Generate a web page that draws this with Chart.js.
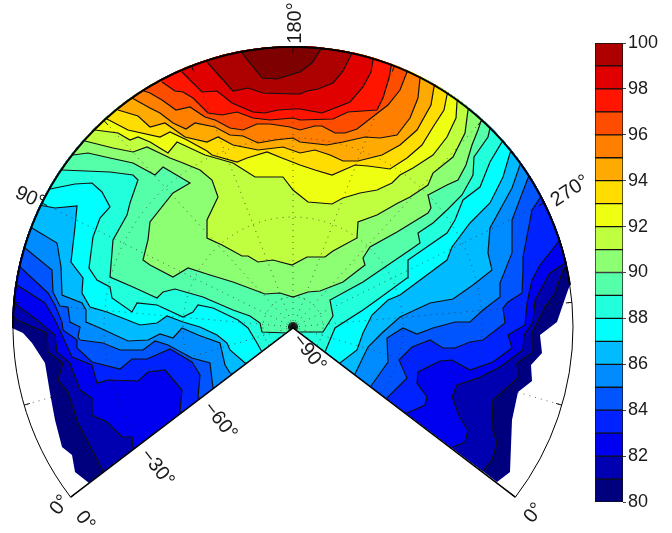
<!DOCTYPE html>
<html>
<head>
<meta charset="utf-8">
<script src="https://cdn.jsdelivr.net/npm/chart.js@4/dist/chart.umd.min.js"></script>
<style>
html, body { margin: 0; padding: 0; background: #fff; }
#wrap { position: relative; width: 672px; height: 533px; overflow: hidden; }
canvas { position: absolute; left: 0; top: 0; }
</style>
</head>
<body>
<div id="wrap">
  <canvas id="map" width="672" height="533"></canvas>
  <canvas id="bar" width="672" height="533"></canvas>
</div>
<script>
// map units: pole at 0,0 and rim at radius 280
var rimRadius = 280;
var gridRadii = [30, 110, 189];
var azimuthStep = 21.24; // 30 deg of azimuth on the flattened cone
var azimuthTicks = [-6, -5, -4, -3, -2, -1, 0, 1, 2, 3, 4, 5, 6];

var barTicks = [80, 82, 84, 86, 88, 90, 92, 94, 96, 98, 100];
var levels = [81, 82, 83, 84, 85, 86, 87, 88, 89, 90, 91, 92, 93, 94, 95, 96, 97, 98, 99, 100];
var bandColors = ["#00007f", "#0000b0", "#0000f0", "#0022ff", "#0055ff", "#008cff", "#00bbff", "#00ffff", "#22ffdd", "#55ffaa",
    "#8cff73", "#bfff40", "#eeff11", "#ffdd00", "#ffaa00", "#ff8000", "#ff4d00", "#ff1500", "#e00000", "#ad0000", "#7f0000"];

var coverageLeft = [[-204,-156],[-218,-145],[-221,-128],[-231,-120],[-238,-93],[-243,-66],[-248,-36],[-261,-16],[-270,-6],[-281,-1]];
var coverageRight = [[277,42],[275,37],[264,5],[247,-8],[249,-26],[238,-38],[239,-54],[225,-65],[219,-93],[217,-145],[204,-155]];

var contour81 = [[-281,12],[-276,7],[-246,-6],[-245,-25],[-230,-36],[-235,-53],[-225,-65],[-215,-96],[-190,-144],
    [189,-145],[199,-133],[204,-116],[199,-100],[200,-73],[225,-51],[224,-36],[239,-26],[239,-6],[252,20],[262,34],[270,57],[274,62]];
var contour82 = [[-279,24],[-256,7],[-238,-8],[-236,-25],[-223,-36],[-213,-63],[-201,-71],[-201,-88],[-186,-95],[-171,-110],[-161,-110],[-160,-121],
    [160,-120],[172,-115],[175,-103],[167,-91],[159,-70],[164,-58],[185,-51],[207,-40],[230,-23],[231,-8],[240,5],[242,27],[257,54],[272,64]];
var contour83 = [[-276,42],[-248,24],[-238,7],[-231,-8],[-221,-30],[-201,-38],[-196,-56],[-185,-53],[-155,-54],[-145,-45],[-128,-43],[-111,-63],[-113,-85],
    [114,-86],[132,-78],[134,-70],[124,-56],[125,-45],[147,-34],[159,-33],[177,-43],[200,-35],[219,-21],[215,-8],[232,2],[234,24],[239,47],[247,62],[259,77],[265,85]];
var contour84 = [[-274,61],[-245,34],[-238,22],[-231,5],[-230,-3],[-216,-13],[-216,-21],[-201,-35],[-173,-42],[-161,-32],[-146,-32],[-123,-22],[-101,-35],[-93,-48],[-95,-71],
    [94,-71],[104,-61],[114,-51],[106,-33],[119,-20],[137,-13],[150,-21],[162,-21],[177,-15],[190,-13],[212,4],[210,19],[215,25],[229,34],[230,57],[230,70],[239,117],[247,129]];
var contour85 = [[-268,79],[-241,57],[-240,35],[-233,21],[-225,20],[-223,5],[-213,0],[-215,-10],[-213,-13],[-190,-16],[-173,-23],[-150,-23],[-138,-14],[-125,-18],[-101,-31],[-83,-36],[-80,-61],
    [78,-59],[95,-35],[94,-11],[110,-1],[124,-7],[140,-1],[162,5],[177,5],[190,17],[207,30],[207,44],[219,74],[219,107],[235,149]];
var contour86 = [[-261,99],[-236,84],[-232,60],[-231,32],[-211,24],[-207,17],[-207,5],[-193,-1],[-165,-14],[-145,-13],[-133,-7],[-120,-11],[-111,-1],[-95,-8],[-73,-16],[-68,-38],[-63,-46],
    [62,-47],[75,-20],[89,-6],[107,10],[124,18],[137,24],[160,28],[180,42],[199,57],[195,74],[197,99],[219,139],[227,162]];
var contour87 = [[-254,122],[-238,119],[-216,121],[-218,100],[-222,65],[-210,49],[-211,34],[-203,20],[-186,15],[-153,2],[-136,4],[-126,11],[-110,5],[-93,0],[-76,-8],[-66,-16],[-63,-23],[-48,-36],
    [47,-36],[64,-23],[70,-6],[79,12],[95,27],[107,32],[154,67],[159,80],[177,104],[197,124],[210,150],[217,174]];
var contour88 = [[-248,137],[-218,143],[-201,144],[-191,135],[-183,120],[-193,109],[-200,90],[-204,59],[-196,47],[-183,40],[-181,29],[-161,15],[-156,24],[-136,22],[-110,10],[-100,15],[-95,22],[-80,19],[-55,7],[-45,-1],[-36,-16],[-31,-25],
    [32,-25],[42,-1],[70,17],[84,27],[114,49],[115,67],[154,94],[162,107],[170,127],[187,140],[197,165],[209,185]];
var contour89 = [[-231,157],[-183,155],[-160,152],[-155,147],[-163,124],[-166,112],[-180,87],[-183,50],[-160,40],[-136,29],[-130,35],[-118,38],[-90,30],[-60,17],[-43,11],[-33,4],[-31,-5],[-6,-6],
    [7,-5],[30,-5],[40,11],[37,27],[70,45],[117,77],[127,84],[125,94],[140,104],[154,117],[169,132],[180,152],[181,170],[195,190],[197,199]];
var contour90 = [[-220,172],[-205,174],[-183,169],[-160,164],[-138,152],[-130,160],[-103,144],[-120,134],[-143,105],[-145,87],[-150,67],[-143,62],[-120,50],[-105,59],[-83,52],[-60,45],[-28,33],[-13,34],[0,30],
    [15,35],[27,36],[50,45],[72,62],[70,69],[77,80],[104,95],[135,114],[138,119],[135,132],[154,142],[165,147],[173,162],[179,182],[185,197],[188,206]];
var contour91 = [[-208,186],[-180,179],[-160,175],[-146,180],[-123,169],[-110,164],[-93,157],[-81,147],[-75,130],[-86,107],[-86,89],[-71,82],[-51,71],[-45,71],[-35,65],[-20,67],[-1,62],
    [14,70],[32,70],[40,76],[64,89],[65,105],[84,112],[105,124],[117,130],[135,142],[140,154],[160,170],[172,194],[175,217]];
var contour92 = [[-198,197],[-175,194],[-163,187],[-155,190],[-143,185],[-125,174],[-116,185],[-103,179],[-88,172],[-60,164],[-38,150],[-10,150],[0,137],
    [15,125],[39,123],[50,129],[67,134],[84,137],[99,144],[107,152],[120,159],[140,172],[154,190],[163,209],[164,225]];
var contour93 = [[-188,209],[-165,197],[-133,190],[-123,195],[-106,187],[-86,176],[-81,172],[-56,165],[-46,169],[-26,175],[-11,169],
    [7,162],[22,157],[39,152],[62,162],[75,161],[97,158],[114,169],[129,182],[140,200],[151,217],[154,232]];
var contour94 = [[-175,217],[-155,211],[-143,200],[-128,204],[-108,190],[-86,185],[-75,190],[-60,182],[-35,177],[-10,180],
    [7,174],[22,177],[37,172],[50,166],[65,166],[89,172],[107,182],[124,197],[138,222],[141,240]];
var contour95 = [[-161,229],[-143,219],[-133,214],[-120,204],[-107,198],[-98,204],[-78,200],[-63,192],[-50,191],[-35,184],[-18,187],[0,189],
    [7,185],[34,182],[50,185],[72,190],[87,189],[104,192],[117,209],[125,229],[127,249]];
var contour96 = [[-149,236],[-143,234],[-131,227],[-117,217],[-103,220],[-88,210],[-78,207],[-63,199],[-50,197],[-36,203],[-23,203],[-3,200],
    [7,197],[22,201],[29,201],[42,194],[52,194],[64,198],[82,212],[95,222],[107,237],[114,255]];
var contour97 = [[-131,245],[-118,236],[-110,235],[-100,229],[-85,214],[-71,212],[-56,215],[-40,209],[-23,207],[0,209],
    [7,207],[40,208],[55,215],[84,217],[90,229],[96,249],[98,260]];
var contour98 = [[-111,255],[-91,235],[-76,236],[-61,224],[-40,215],[-28,214],[-15,217],[0,218],[7,218],[29,214],[42,219],[57,225],[70,240],[78,255],[80,267]];
var contour99 = [[-86,265],[-60,236],[-45,239],[-30,234],[0,233],[7,233],[14,236],[25,238],[40,244],[50,256],[58,272]];
var contour100 = [[-51,274],[-31,249],[-16,248],[0,253],[7,255],[19,264],[28,278]];

var labelTexts = ["180\u00b0", "90\u00b0", "270\u00b0", "\u221290\u00b0", "\u221260\u00b0", "\u221230\u00b0", "0\u00b0", "0\u00b0", "0\u00b0"];
var labelX = [2, -263, 277, 16, -73, -136, -208, -233, 241];
var labelY = [304, 129, 136, -26, -94, -141, -194, -178, -186];
var labelAngle = [-90, 24, -33, 52, 52, 52, 52, -52, -52];

var FONT = "20px 'Liberation Sans', Arial, sans-serif";
var contours = [contour81, contour82, contour83, contour84, contour85, contour86, contour87, contour88, contour89, contour90,
    contour91, contour92, contour93, contour94, contour95, contour96, contour97, contour98, contour99, contour100];

// carry the ends past the rim and round the top, the coverage clip trims the rest
function closedShape(line) {
    var first = line[0];
    var last = line[line.length - 1];
    var pts = line.concat([[last[0] * 1.5, last[1] * 1.5], [900, 900], [-900, 900], [first[0] * 1.5, first[1] * 1.5]]);
    return pts.map(function(p) {
        return { x: p[0], y: p[1] };
    });
}

function buildDatasets() {
    var sets = [];
    for (var i = contours.length - 1; i >= 0; i--) {
        sets.push({
            data: closedShape(contours[i]),
            showLine: true,
            fill: "shape",
            backgroundColor: bandColors[i + 1],
            borderColor: "#111111",
            borderWidth: 1.2,
            pointRadius: 0,
            tension: 0,
            clip: false
        });
    }
    // lowest band is just the whole covered area
    sets.push({
        data: [{ x: -900, y: -900 }, { x: 900, y: -900 }, { x: 900, y: 900 }, { x: -900, y: 900 }],
        showLine: true,
        fill: "shape",
        backgroundColor: bandColors[0],
        borderWidth: 0,
        pointRadius: 0
    });
    return sets;
}

function traceCoverage(ctx, sx, sy) {
    var cx = sx.getPixelForValue(0), cy = sy.getPixelForValue(0);
    var r = sx.getPixelForValue(rimRadius) - cx;
    var a = coverageLeft[coverageLeft.length - 1];
    var b = coverageRight[0];
    ctx.beginPath();
    ctx.moveTo(cx, cy);
    coverageLeft.forEach(function(p) {
        ctx.lineTo(sx.getPixelForValue(p[0]), sy.getPixelForValue(p[1]));
    });
    ctx.arc(cx, cy, r + 1, Math.atan2(-a[1], a[0]), Math.atan2(-b[1], b[0]));
    coverageRight.forEach(function(p) {
        ctx.lineTo(sx.getPixelForValue(p[0]), sy.getPixelForValue(p[1]));
    });
    ctx.closePath();
}

var coverageClip = {
    id: "coverageClip",
    beforeDatasetsDraw: function(chart) {
        var ctx = chart.ctx;
        ctx.save();
        traceCoverage(ctx, chart.scales.x, chart.scales.y);
        ctx.clip();
    },
    afterDatasetsDraw: function(chart) {
        chart.ctx.restore();
    }
};

var polarFrame = {
    id: "polarFrame",
    afterDraw: function(chart) {
        var ctx = chart.ctx;
        var sx = chart.scales.x, sy = chart.scales.y;
        var cx = sx.getPixelForValue(0), cy = sy.getPixelForValue(0);
        var unit = sx.getPixelForValue(1) - cx;
        var rim = rimRadius * unit;
        var span = azimuthTicks[azimuthTicks.length - 1] * azimuthStep * Math.PI / 180;
        var start = -Math.PI / 2 - span, end = -Math.PI / 2 + span;
        ctx.save();

        // dotted grid
        ctx.strokeStyle = "rgba(40,40,40,0.7)";
        ctx.lineWidth = 1;
        ctx.setLineDash([1, 5]);
        gridRadii.forEach(function(r) {
            ctx.beginPath();
            ctx.arc(cx, cy, r * unit, start, end);
            ctx.stroke();
        });
        azimuthTicks.forEach(function(k) {
            var ang = -Math.PI / 2 + k * azimuthStep * Math.PI / 180;
            ctx.beginPath();
            ctx.moveTo(cx, cy);
            ctx.lineTo(cx + rim * Math.cos(ang), cy + rim * Math.sin(ang));
            ctx.stroke();
        });
        ctx.setLineDash([]);

        // rim ticks and the star at the pole
        ctx.strokeStyle = "#111111";
        azimuthTicks.forEach(function(k) {
            var ang = -Math.PI / 2 + k * azimuthStep * Math.PI / 180;
            ctx.beginPath();
            ctx.moveTo(cx + (rim - 6) * Math.cos(ang), cy + (rim - 6) * Math.sin(ang));
            ctx.lineTo(cx + rim * Math.cos(ang), cy + rim * Math.sin(ang));
            ctx.moveTo(cx, cy);
            ctx.lineTo(cx + 5 * Math.cos(ang), cy + 5 * Math.sin(ang));
            ctx.stroke();
            var mid = ang + azimuthStep * Math.PI / 360;
            if (k < 6) {
                ctx.beginPath();
                ctx.moveTo(cx, cy);
                ctx.lineTo(cx + 5 * Math.cos(mid), cy + 5 * Math.sin(mid));
                ctx.stroke();
            }
        });

        // rim and wedge edges
        ctx.strokeStyle = "#000000";
        ctx.lineWidth = 1;
        ctx.beginPath();
        ctx.arc(cx, cy, rim, start, end);
        ctx.stroke();
        var a = coverageLeft[coverageLeft.length - 1];
        var b = coverageRight[0];
        ctx.lineWidth = 2;
        ctx.beginPath();
        ctx.arc(cx, cy, rim, Math.atan2(-a[1], a[0]), Math.atan2(-b[1], b[0]));
        ctx.stroke();
        ctx.lineWidth = 1.5;
        ctx.beginPath();
        ctx.moveTo(cx + rim * Math.cos(start), cy + rim * Math.sin(start));
        ctx.lineTo(cx, cy + 1);
        ctx.lineTo(cx + rim * Math.cos(end), cy + rim * Math.sin(end));
        ctx.stroke();

        // labels
        ctx.fillStyle = "#1a1a1a";
        ctx.font = FONT;
        ctx.textAlign = "center";
        ctx.textBaseline = "middle";
        labelTexts.forEach(function(text, i) {
            ctx.save();
            ctx.translate(sx.getPixelForValue(labelX[i]), sy.getPixelForValue(labelY[i]));
            ctx.rotate(labelAngle[i] * Math.PI / 180);
            ctx.fillText(text, 0, 0);
            ctx.restore();
        });
        ctx.restore();
    }
};

new Chart(document.getElementById("map"), {
    type: "scatter",
    data: { datasets: buildDatasets() },
    options: {
        responsive: false,
        animation: false,
        layout: { padding: 0 },
        plugins: { legend: { display: false }, tooltip: { enabled: false } },
        scales: {
            x: { type: "linear", display: false, min: -293, max: 379 },
            y: { type: "linear", display: false, min: -206, max: 327 }
        }
    },
    plugins: [coverageClip, polarFrame]
});

// colour bar
var barSets = [];
for (var b = 0; b < 20; b++) {
    barSets.push({
        data: [[80 + b, 81 + b]],
        backgroundColor: bandColors[b],
        borderColor: "#111111",
        borderWidth: 1,
        borderSkipped: false,
        barPercentage: 1,
        categoryPercentage: 1,
        grouped: false
    });
}

new Chart(document.getElementById("bar"), {
    type: "bar",
    data: { labels: ["c"], datasets: barSets },
    options: {
        responsive: false,
        animation: false,
        layout: { padding: { left: 595, top: 43, bottom: 31, right: 0 } },
        plugins: { legend: { display: false }, tooltip: { enabled: false } },
        scales: {
            x: { display: false },
            y: {
                position: "right",
                min: 80,
                max: 100,
                afterFit: function(scale) {
                    scale.width = 49;
                },
                afterBuildTicks: function(scale) {
                    scale.ticks = barTicks.map(function(v) {
                        return { value: v };
                    });
                },
                border: { display: false },
                grid: { drawOnChartArea: false, tickLength: 3, color: "#444444" },
                ticks: {
                    padding: 2,
                    color: "#1a1a1a",
                    font: { family: "'Liberation Sans', Arial, sans-serif", size: 18 }
                }
            }
        }
    }
});
</script>
</body>
</html>
